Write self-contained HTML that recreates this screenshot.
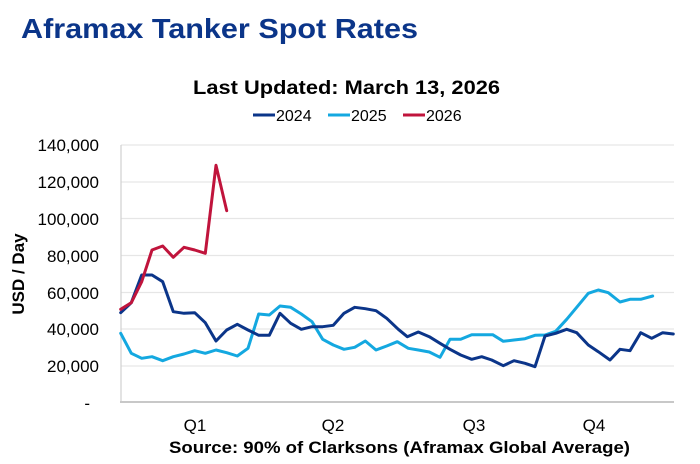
<!DOCTYPE html>
<html><head><meta charset="utf-8"><style>
html,body{margin:0;padding:0;background:#fff;}
svg{display:block;font-family:"Liberation Sans",Arial,sans-serif;}
</style></head><body>
<svg width="700" height="464" viewBox="0 0 700 464" xmlns="http://www.w3.org/2000/svg">
<text x="21" y="38" font-size="28" font-weight="bold" fill="#0b3589" textLength="397" lengthAdjust="spacingAndGlyphs">Aframax Tanker Spot Rates</text>
<text x="193" y="94" font-size="19" font-weight="bold" fill="#000" textLength="307" lengthAdjust="spacingAndGlyphs">Last Updated: March 13, 2026</text>
<g font-size="16" fill="#000">
<line x1="253" y1="115" x2="275" y2="115" stroke="#0b3589" stroke-width="3"/>
<text x="276" y="121">2024</text>
<line x1="328" y1="115" x2="350" y2="115" stroke="#14a8e0" stroke-width="3"/>
<text x="351" y="121">2025</text>
<line x1="403" y1="115" x2="425" y2="115" stroke="#c0143c" stroke-width="3"/>
<text x="426" y="121">2026</text>
</g>
<g stroke="#e6e6e6" stroke-width="1.2">
<line x1="121" y1="145" x2="674" y2="145"/>
<line x1="121" y1="182" x2="674" y2="182"/>
<line x1="121" y1="218.5" x2="674" y2="218.5"/>
<line x1="121" y1="255.5" x2="674" y2="255.5"/>
<line x1="121" y1="292.5" x2="674" y2="292.5"/>
<line x1="121" y1="329" x2="674" y2="329"/>
<line x1="121" y1="366" x2="674" y2="366"/>
</g>
<line x1="121" y1="145" x2="121" y2="402" stroke="#d0d0d0" stroke-width="1.2"/>
<line x1="120" y1="402" x2="674" y2="402" stroke="#c8c8c8" stroke-width="2"/>
<g font-size="17" fill="#000" text-anchor="end">
<text x="99" y="151">140,000</text>
<text x="99" y="188">120,000</text>
<text x="99" y="225">100,000</text>
<text x="99" y="262">80,000</text>
<text x="99" y="299">60,000</text>
<text x="99" y="335">40,000</text>
<text x="99" y="372">20,000</text>
<text x="90" y="409">-</text>
</g>
<text transform="translate(24,274) rotate(-90)" font-size="17" font-weight="bold" text-anchor="middle">USD / Day</text>
<g font-size="17" text-anchor="middle">
<text x="195" y="431">Q1</text>
<text x="333" y="431">Q2</text>
<text x="474" y="431">Q3</text>
<text x="594" y="431">Q4</text>
</g>
<text x="169" y="453" font-size="17" font-weight="bold" textLength="461" lengthAdjust="spacingAndGlyphs">Source: 90% of Clarksons (Aframax Global Average)</text>
<g fill="none" stroke-width="3" stroke-linejoin="round" stroke-linecap="round">
<polyline stroke="#14a8e0" points="120.7,333.3 131.3,353.3 141.7,358.3 152,356.7 162.7,360.7 173.3,356.7 184,354 194.7,350.7 205.3,353.3 216,350 226.7,352.7 237.3,356 248,348.3 258.7,314 269.3,315 280,306 290.7,307.3 301.3,314 312,321.7 322.7,339.3 333.3,345 344,349.3 354.7,347.3 365.3,341 376,350 386.7,346 397.3,341.7 408.3,348.3 418.3,350 429.3,352 440,357.3 450,339.3 460.7,339.3 471.7,334.7 481.7,334.7 492.7,334.7 503.3,341.3 514,340 525,338.7 535,335.3 545,335 555.7,331.3 566.7,319.3 576.7,307.3 588.3,293.3 598.3,290 608.3,292.7 620,302 630,299.3 640.7,299.3 652.7,296"/>
<polyline stroke="#0b3589" points="120.7,312.7 131.3,302.7 141.7,275 152,275 162.7,281.7 173.3,311.7 184,313.3 194.7,312.7 205.3,322.7 216,341 226.7,330 237.3,324.3 248,330 258.7,335.3 269.3,335.3 280,313.3 290.7,323.3 301.3,329.3 312,326.7 322.7,326.7 333.3,325.3 344,313.3 354.7,307.3 365.3,308.7 376,310.7 386.7,318.3 398.3,329.3 407.3,336.7 418.3,332 429.3,336.7 440,343.3 450,349.3 460.7,355 471.7,359.3 481.7,356.7 491.7,360 503.3,365.7 514,360.7 525,363.3 535,366.7 545,336 555.7,333.3 566.7,329.3 576.7,332.7 588.3,345 598.3,351.7 610,360 620,349.3 630,350.7 640.7,332.7 651.7,338.3 662.7,332.7 673.3,334"/>
<polyline stroke="#c0143c" points="120.7,309.3 131.3,302.7 141.7,281.7 152,250 162.7,246 173.3,257.3 184,247.3 194.7,250 205.3,253.3 216,165.3 226.7,210.7"/>
</g>
</svg>
</body></html>
